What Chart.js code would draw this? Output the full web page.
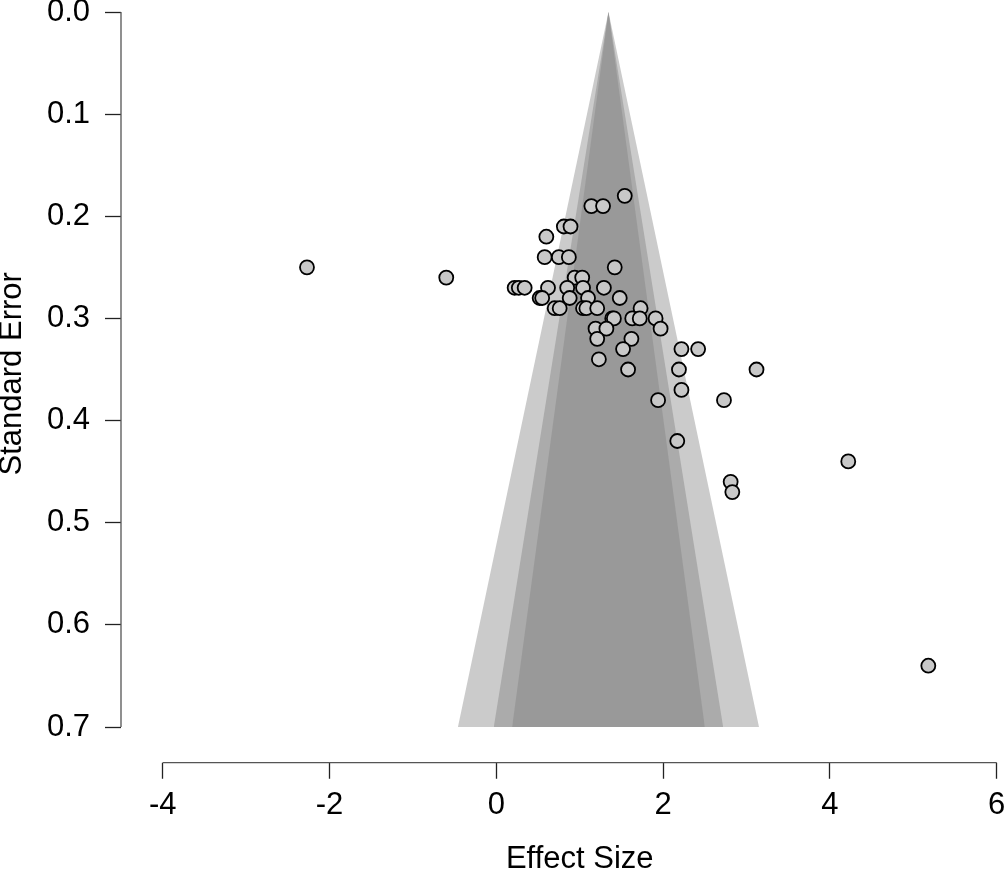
<!DOCTYPE html>
<html><head><meta charset="utf-8">
<script src="https://cdn.jsdelivr.net/npm/chart.js@4.4.1/dist/chart.umd.min.js"></script>
<style>html,body{margin:0;padding:0;background:#fff;}#wrap{width:1004px;height:875px;position:relative;}</style>
</head><body><div id="wrap"><canvas id="c" width="1004" height="875"></canvas></div>
<script>
// Tick labels
const effectTicks = [-4, -2, 0, 2, 4, 6];
const seTicks = [0.0, 0.1, 0.2, 0.3, 0.4, 0.5, 0.6, 0.7];

// Study effect sizes and standard errors
const effectSize = [
  1.54,
  1.14, 1.28,
  0.81, 0.89,
  0.60,
  0.58, 0.75, 0.87,
  -2.27, 1.42,
  -0.60, 0.94, 1.03,
  0.22, 0.27, 0.34, 0.62, 0.85, 1.04, 1.29,
  0.52, 0.55, 0.88, 1.10, 1.48,
  0.70, 0.76, 1.04, 1.08, 1.21, 1.73,
  1.39, 1.41, 1.63, 1.72, 1.91,
  1.19, 1.32, 1.97,
  1.21, 1.62,
  1.52, 2.22, 2.42,
  1.23,
  1.58, 2.19, 3.12,
  2.22,
  1.94, 2.73,
  2.17,
  4.22,
  2.81,
  2.83,
  5.18
];
const standardError = [
  0.18,
  0.19, 0.19,
  0.21, 0.21,
  0.22,
  0.24, 0.24, 0.24,
  0.25, 0.25,
  0.26, 0.26, 0.26,
  0.27, 0.27, 0.27, 0.27, 0.27, 0.27, 0.27,
  0.28, 0.28, 0.28, 0.28, 0.28,
  0.29, 0.29, 0.29, 0.29, 0.29, 0.29,
  0.30, 0.30, 0.30, 0.30, 0.30,
  0.31, 0.31, 0.31,
  0.32, 0.32,
  0.33, 0.33, 0.33,
  0.34,
  0.35, 0.35, 0.35,
  0.37,
  0.38, 0.38,
  0.42,
  0.44,
  0.46,
  0.47,
  0.64
];

// Funnel contour vertices (bottom-left, apex, bottom-right)
const funnelSE = [0.7, 0.0, 0.7];
const funnel99 = [-0.46, 1.345, 3.15];
const funnel95 = [-0.03, 1.345, 2.72];
const funnel90 = [0.19, 1.345, 2.50];

const FONT = 'Liberation Sans, Arial, Helvetica, sans-serif';
const pts = effectSize.map((v, i) => ({x: v, y: standardError[i]}));
const tri = arr => arr.map((v, i) => ({x: v, y: funnelSE[i]}));

const axisLines = {
  id: 'axisLines',
  afterDraw(chart) {
    const {ctx, chartArea, scales: {x, y}} = chart;
    ctx.save();
    ctx.strokeStyle = '#555';
    ctx.lineWidth = 1.3;
    ctx.beginPath();
    const xl = chartArea.left;
    ctx.moveTo(xl, y.getPixelForValue(seTicks[0]));
    ctx.lineTo(xl, y.getPixelForValue(seTicks[seTicks.length - 1]));
    const yb = chartArea.bottom + 35.7;
    ctx.moveTo(x.getPixelForValue(effectTicks[0]), yb);
    ctx.lineTo(x.getPixelForValue(effectTicks[effectTicks.length - 1]), yb);
    ctx.stroke();
    ctx.restore();
  }
};

const funnelDs = (arr, color, order) => ({
  type: 'line', data: tri(arr), order: order,
  backgroundColor: color, borderColor: color, borderWidth: 0,
  pointRadius: 0, tension: 0, fill: {value: 0.7}
});

new Chart(document.getElementById('c'), {
  type: 'scatter',
  data: {
    datasets: [
      {type: 'scatter', data: pts, order: 0, pointRadius: 7, pointHoverRadius: 7,
       backgroundColor: '#c8c8c8', borderColor: '#000', borderWidth: 1.8, clip: false},
      funnelDs(funnel90, '#999999', 1),
      funnelDs(funnel95, '#ababab', 2),
      funnelDs(funnel99, '#cbcbcb', 3)
    ]
  },
  plugins: [axisLines],
  options: {
    responsive: false, animation: false, devicePixelRatio: 1,
    layout: {autoPadding: false, padding: {top: 12, right: 0, left: 0, bottom: 0}},
    plugins: {legend: {display: false}, tooltip: {enabled: false}},
    scales: {
      x: {
        type: 'linear', position: 'bottom', min: -4.5, max: 6.0875,
        afterBuildTicks: s => { s.ticks = effectTicks.map(v => ({value: v})); },
        afterFit: s => { s.height = 148; s.paddingLeft = 0; s.paddingRight = 0; },
        border: {display: false},
        grid: {drawOnChartArea: false, drawTicks: true, tickLength: 52, tickColor: '#222', tickWidth: 1.3,
               tickBorderDash: [0, 35.7, 16, 300]},
        ticks: {padding: 8, color: '#000', font: {family: FONT, size: 31}, callback: v => String(v)},
        title: {display: true, text: '    Effect Size', color: '#000', padding: 0,
                font: {family: FONT, size: 31, lineHeight: 1}}
      },
      y: {
        type: 'linear', position: 'left', reverse: true, min: 0, max: 0.7,
        afterBuildTicks: s => { s.ticks = seTicks.map(v => ({value: v})); },
        afterFit: s => { s.width = 121; s.paddingTop = 0; s.paddingBottom = 0; },
        border: {display: false},
        grid: {drawOnChartArea: false, drawTicks: true, tickLength: 16, tickColor: '#222', tickWidth: 1.3},
        ticks: {padding: 15, color: '#000', font: {family: FONT, size: 31}, callback: v => Number(v).toFixed(1)},
        title: {display: true, text: 'Standard Error ', color: '#000', padding: 0,
                font: {family: FONT, size: 31, lineHeight: 0.8}}
      }
    }
  }
});
</script></body></html>
